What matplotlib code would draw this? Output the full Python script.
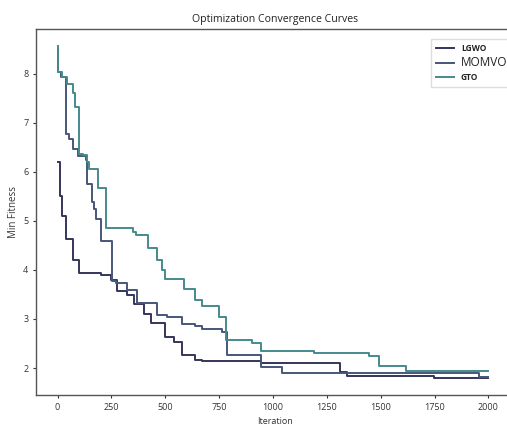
import matplotlib
matplotlib.use("Agg")
import matplotlib.pyplot as plt

# step breakpoints (iteration, min fitness)
lgwo_iter = [0, 11, 20, 39, 73, 101, 200, 250, 277, 323, 354, 401, 432, 501,
             540, 579, 640, 671, 942, 1313, 1344, 1746, 2000]
lgwo_fit = [6.2, 5.5, 5.1, 4.64, 4.2, 3.93, 3.9, 3.8, 3.58, 3.48, 3.31, 3.11,
            2.91, 2.63, 2.53, 2.26, 2.17, 2.14, 2.1, 1.92, 1.84, 1.79, 1.79]

momvo_iter = [0, 3, 15, 39, 54, 73, 93, 132, 139, 159, 170, 178, 201, 255,
              269, 323, 370, 462, 509, 579, 640, 671, 764, 788, 942, 1042,
              1954, 2000]
momvo_fit = [8.5, 8.03, 7.93, 6.77, 6.67, 6.47, 6.33, 6.23, 5.76, 5.39, 5.25,
             5.04, 4.58, 3.78, 3.74, 3.6, 3.33, 3.09, 3.04, 2.89, 2.85, 2.8,
             2.74, 2.26, 2.02, 1.89, 1.82, 1.82]

gto_iter = [0, 3, 20, 45, 70, 80, 101, 116, 139, 147, 186, 227, 348, 364, 418,
            462, 486, 501, 586, 640, 671, 749, 784, 903, 942, 1189, 1445,
            1492, 1615, 2000]
gto_fit = [8.57, 8.03, 7.93, 7.78, 7.6, 7.32, 6.37, 6.35, 6.2, 6.06, 5.66,
           4.85, 4.78, 4.71, 4.44, 4.2, 4.0, 3.81, 3.62, 3.38, 3.26, 3.04,
           2.57, 2.51, 2.35, 2.3, 2.25, 2.04, 1.94, 1.94]

plt.rcParams['font.family'] = ['Open Sans', 'DejaVu Sans']

fig = plt.figure(figsize=(5.07, 4.25), dpi=100)
# the original is cropped on the right, so the axes run to the picture edge
ax = fig.add_axes([36 / 507, 30 / 425, 471 / 507, 366 / 425])

ax.step(lgwo_iter, lgwo_fit, where='post', color='#34355a', lw=1.4, label='LGWO')
ax.step(momvo_iter, momvo_fit, where='post', color='#47577a', lw=1.4, label='MOMVO')
ax.step(gto_iter, gto_fit, where='post', color='#458a8c', lw=1.4, label='GTO')
ax.set_xlim(-100, 2086)

ax.set_title('Optimization Convergence Curves', fontsize=7.6, color='#222222',
             pad=5, x=0.508)
ax.set_xlabel('Iteration', fontsize=6.5, color='#333333', labelpad=4, x=0.508)
ax.set_ylabel('Min Fitness', fontsize=7, color='#333333', labelpad=3)
ax.set_xticks([0, 250, 500, 750, 1000, 1250, 1500, 1750, 2000])
ax.set_yticks([2, 3, 4, 5, 6, 7, 8])
ax.tick_params(labelsize=6.5, length=2.5, width=0.8, colors='#333333', pad=3)
for s in ax.spines.values():
    s.set_color('#555555')
    s.set_linewidth(1.0)
ax.spines['right'].set_visible(False)

leg = ax.legend(loc='upper right', bbox_to_anchor=(1.02, 0.985), fontsize=6,
                handlelength=2.2, labelspacing=0.45, borderpad=0.6,
                framealpha=1, edgecolor='#dddddd', fancybox=False)
sizes = [6, 8.5, 6]
weights = ['bold', 'normal', 'bold']
for t, fs, fw in zip(leg.get_texts(), sizes, weights):
    t.set_fontsize(fs)
    t.set_fontweight(fw)
    t.set_color('#222222')

fig.savefig('out.png', dpi=100)
